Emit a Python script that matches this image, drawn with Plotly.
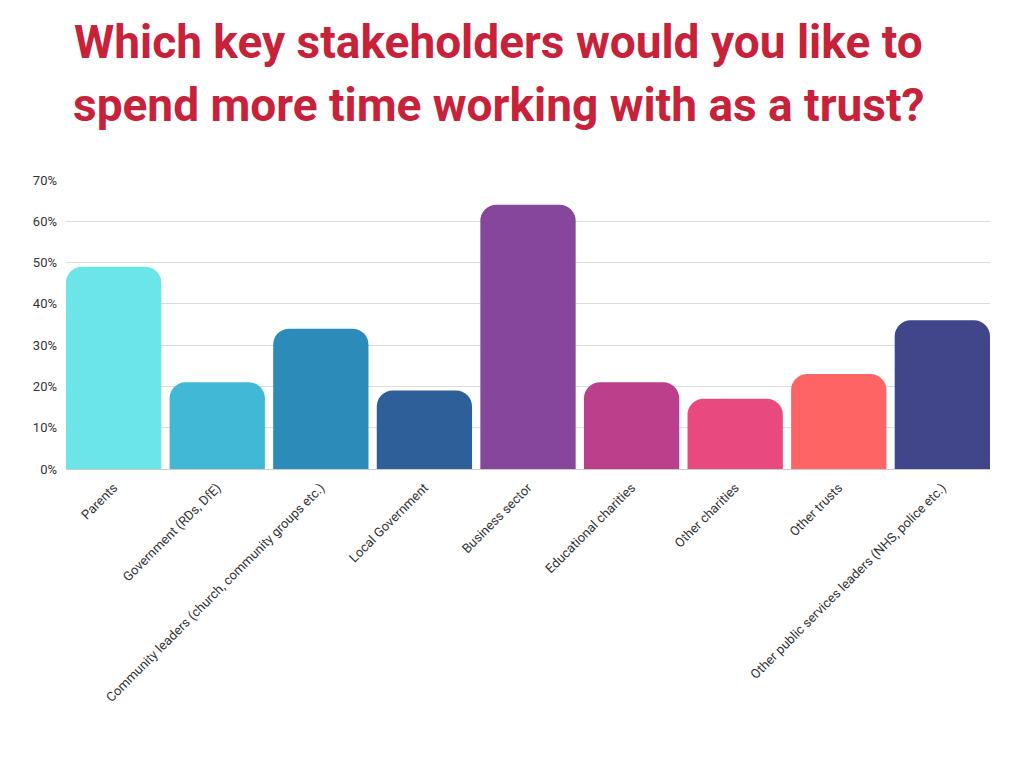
import plotly.graph_objects as go

# Survey responses: share of trusts wanting more time with each stakeholder
categories = [
    "Parents",
    "Government (RDs, DfE)",
    "Community leaders (church, community groups etc.)",
    "Local Government",
    "Business sector",
    "Educational charities",
    "Other charities",
    "Other trusts",
    "Other public services leaders (NHS, police etc.)",
]
percentages = [49, 21, 34, 19, 64, 21, 17, 23, 36]
bar_colors = [
    "#6ce5e8", "#41b8d5", "#2d8bba", "#2f5f98", "#86469c",
    "#bb3f8a", "#e84a7f", "#ff6464", "#41468b",
]
y_ticks = [0, 10, 20, 30, 40, 50, 60, 70]
y_tick_labels = [f"{v}%" for v in y_ticks]

title_lines = [
    "Which key stakeholders would you like to",
    "spend more time working with as a trust?",
]
title_shifts = [167, 104]  # pixels above the plot top for each title line

bar_fraction = 0.92
half = bar_fraction / 2

fig = go.Figure(
    go.Bar(
        x=categories,
        y=percentages,
        width=bar_fraction,
        marker=dict(color=bar_colors, cornerradius=16, line=dict(width=0)),
        hoverinfo="x+y",
    )
)

fig.update_layout(
    width=1024,
    height=768,
    paper_bgcolor="white",
    plot_bgcolor="white",
    margin=dict(l=66, r=34, t=180, b=299, autoexpand=False),
    showlegend=False,
    font=dict(family="Roboto", color="#333333", size=13),
    annotations=[
        dict(
            text=line,
            xref="paper", yref="paper",
            x=0.4686, y=1.0, yshift=shift,
            xanchor="center", yanchor="top",
            showarrow=False, align="center",
            font=dict(family="Roboto", size=46, color="#c8223a", weight="bold"),
        )
        for line, shift in zip(title_lines, title_shifts)
    ],
)

fig.update_xaxes(
    range=[-half, len(categories) - 1 + half],
    tickangle=-45,
    tickfont=dict(size=13, color="#333333"),
    ticklabelstandoff=5,
    showgrid=False,
    showline=True,
    linecolor="#cccccc",
    ticks="",
)
fig.update_yaxes(
    range=[0, 70],
    tickvals=y_ticks,
    ticktext=y_tick_labels,
    tickfont=dict(size=13, color="#333333"),
    ticklabelstandoff=8,
    showgrid=True,
    gridcolor="#dddddd",
    gridwidth=1,
    zeroline=False,
    ticks="",
)

fig.write_html("out.html")
